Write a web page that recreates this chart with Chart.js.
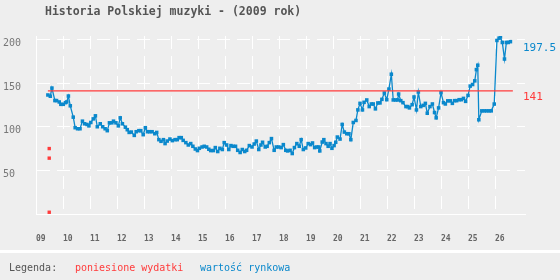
<!DOCTYPE html>
<html><head><meta charset="utf-8">
<script src="https://cdn.jsdelivr.net/npm/chart.js@4/dist/chart.umd.min.js"></script>
<style>html,body{margin:0;padding:0;background:#eeeeee;}#wrap{width:560px;height:280px;}</style>
</head><body><div id="wrap"><canvas id="c" width="560" height="280"></canvas></div>
<script>
const chartTitle = 'Historia Polskiej muzyki - (2009 rok)';
const legendTitle = 'Legenda:';
const seriesNames = ['poniesione wydatki', 'wartość rynkowa'];
const xMin = 9, xMax = 27.11;
const yTicksMax = 204;

const weeks = [9.44,9.53,9.59,9.70,9.76,9.86,9.92,10.01,10.09,10.14,10.20,10.27,10.38,10.45,10.54,10.63,10.72,10.80,10.89,10.96,
11.03,11.12,11.20,11.27,11.38,11.47,11.56,11.64,11.72,11.81,11.87,11.96,12.05,12.12,12.20,12.31,12.38,12.45,12.53,12.64,
12.71,12.81,12.88,12.97,13.05,13.13,13.21,13.30,13.40,13.47,13.55,13.63,13.72,13.78,13.86,13.96,14.05,14.15,14.23,14.30,
14.38,14.45,14.55,14.64,14.73,14.81,14.90,14.98,15.05,15.15,15.23,15.32,15.40,15.47,15.57,15.64,15.73,15.81,15.90,15.97,
16.06,16.14,16.22,16.30,16.39,16.47,16.56,16.64,16.73,16.80,16.90,17.00,17.08,17.16,17.25,17.33,17.39,17.49,17.56,17.64,
17.72,17.82,17.90,17.99,18.08,18.16,18.25,18.32,18.41,18.49,18.57,18.66,18.75,18.82,18.90,18.99,19.08,19.17,19.24,19.32,
19.40,19.47,19.51,19.60,19.66,19.74,19.82,19.89,19.96,20.04,20.10,20.16,20.26,20.34,20.42,20.51,20.59,20.66,20.75,20.85,
20.92,21.00,21.09,21.15,21.25,21.34,21.42,21.49,21.57,21.66,21.74,21.81,21.90,21.99,22.07,22.16,22.23,22.32,22.39,22.43,
22.51,22.59,22.70,22.77,22.83,22.93,23.00,23.09,23.16,23.25,23.34,23.42,23.49,23.59,23.68,23.76,23.82,23.91,24.00,24.09,
24.16,24.25,24.34,24.42,24.50,24.58,24.67,24.75,24.83,24.91,25.00,25.08,25.17,25.25,25.31,25.36,25.40,25.51,25.60,25.69,
25.78,25.86,25.97,26.07,26.15,26.20,26.27,26.35,26.42,26.49,26.57];

const marketValue = [136.4,135,144.3,130,130,128.4,125.7,125.7,127.6,128.4,135.2,124,111,98.9,97.7,97.7,106.4,103.4,102.6,101,
104.9,109,112.5,100,103.4,100,97.7,95.5,104.5,104.5,106.4,104.5,101,110.2,103.4,99.5,96.6,93.5,93.9,90.1,
94.3,95.5,95.5,90.9,98.9,94.3,94.3,94.3,92,93.5,85.2,83.3,85.2,80.7,83.6,85.9,84.1,85.2,85.2,87.5,
87.5,84.4,81.8,79.1,80.7,77.6,74.5,72.7,75.3,76.8,77.6,76.8,74.2,72.7,72.7,76.1,71.6,75.3,73.9,81.8,
79.1,73.9,78.4,77.6,77.6,73,70.5,73.9,71.6,73,78.4,76.8,80.2,83.6,73.9,79.1,82.2,76.8,77.6,81.8,
86.4,73,76.8,76.8,76.1,79.5,73,72.3,73,69.3,76.1,80.7,77.6,85.2,73.9,75.7,80.7,79.5,81.4,76.1,
76.8,76.8,72.3,82.5,85.2,80.7,77.6,80.7,75.3,78.4,82.2,88.2,85.9,102.6,93.9,92,92,85.2,104.9,107.2,
119.3,126.8,119.3,128,130.7,123.1,126.1,126.1,120.5,127.3,127.3,131.4,138.6,131,143.2,160.2,130.7,130.7,130.7,137.5,
129.9,127.6,123.1,123.1,121.6,125.3,134.1,119.3,139.8,123.1,124.5,126.8,115.5,123.1,126.1,116.3,110.2,121.6,139,127.6,
126.1,129.7,129.7,126.8,129.9,129.9,131,131,132.5,129.1,135.9,146.6,148.4,152.6,165.5,170.5,108,118.2,118.2,118.2,
118.2,118.2,126,198.9,201.5,203,196.6,177.6,196.6,196.6,197.5];

const expenseWeeks = [9.49, 9.49, 9.49];
const expenseValues = [75, 64, 2];
const expenseTotal = 141;
const expenseSpan = [9.44, 26.66];

const BLUE = '#0a88cc', RED = '#ff3b3b', BG = '#eeeeee';
const MONO = '"DejaVu Sans Mono", "Liberation Mono", monospace';

const marketPts = weeks.map((w, i) => ({x: w, y: marketValue[i]}));
const expensePts = expenseWeeks.map((w, i) => ({x: w, y: expenseValues[i]}));
const expenseLine = expenseSpan.map(w => ({x: w, y: expenseTotal}));

const decor = {
  id: 'decor',
  beforeDraw(chart) {
    const ctx = chart.ctx;
    ctx.save();
    ctx.fillStyle = BG;
    ctx.fillRect(0, 0, chart.width, chart.height);
    ctx.restore();
  },
  afterDraw(chart) {
    const ctx = chart.ctx, ys = chart.scales.y;
    ctx.save();
    ctx.fillStyle = '#555';
    ctx.font = 'bold 11.5px ' + MONO;
    ctx.textBaseline = 'middle';
    ctx.textAlign = 'left';
    ctx.fillText(chartTitle, 45, 12);
    ctx.fillStyle = '#ffffff';
    ctx.fillRect(0, 250, chart.width, 3);
    ctx.font = '10px ' + MONO;
    ctx.fillStyle = '#555';
    ctx.fillText(legendTitle, 9, 268);
    ctx.fillStyle = RED;
    ctx.fillText(seriesNames[0], 75, 268);
    ctx.fillStyle = BLUE;
    ctx.fillText(seriesNames[1], 200, 268);
    ctx.font = '11px ' + MONO;
    const last = marketValue[marketValue.length - 1];
    ctx.fillStyle = BLUE;
    ctx.fillText(String(last), 523, ys.getPixelForValue(last) + 6);
    ctx.fillStyle = RED;
    ctx.fillText(String(expenseTotal), 523, ys.getPixelForValue(expenseTotal) + 6);
    ctx.restore();
  }
};

new Chart(document.getElementById('c'), {
  type: 'scatter',
  data: {
    datasets: [
      {label: seriesNames[0], data: expenseLine, showLine: true, borderColor: RED, borderWidth: 1.2, pointRadius: 0},
      {label: seriesNames[0], data: expensePts, showLine: false, pointStyle: 'rect', pointRadius: 2.4, pointBorderWidth: 0, backgroundColor: RED, borderColor: RED},
      {label: seriesNames[1], data: marketPts, showLine: true, borderColor: BLUE, borderWidth: 1.3, pointStyle: 'rect', pointRadius: 2.5, pointBorderWidth: 0, pointBackgroundColor: BLUE, tension: 0}
    ]
  },
  options: {
    responsive: false, animation: false, devicePixelRatio: 1,
    layout: {padding: {top: 36, bottom: 30, left: 3, right: 35}},
    plugins: {legend: {display: false}, tooltip: {enabled: false}, title: {display: false}},
    scales: {
      x: {
        type: 'linear', min: xMin, max: xMax,
        afterFit(s) { s.height = 36; },
        grid: {color: c => (c.tick && c.tick.value > 26.5) ? 'rgba(0,0,0,0)' : '#ffffff', lineWidth: 1, drawTicks: false},
        border: {color: '#ffffff', width: 1, dash: [13, 7]},
        ticks: {stepSize: 1, includeBounds: false, align: 'start', padding: 20, maxRotation: 0, autoSkip: false,
          color: '#666', font: {family: MONO, size: 8, weight: 'bold'},
          callback: v => (v > 26.5 ? '' : String(v).padStart(2, '0'))}
      },
      y: {
        min: 0, max: yTicksMax,
        afterFit(s) { s.width = 33; },
        grid: {color: '#ffffff', lineWidth: 1, drawTicks: false},
        border: {color: '#ffffff', width: 1, dash: [13, 7]},
        ticks: {stepSize: 50, includeBounds: false, crossAlign: 'far', labelOffset: 4, padding: 4,
          color: '#777', font: {family: MONO, size: 10},
          callback: v => (v === 0 ? '' : String(v))}
      }
    }
  },
  plugins: [decor]
});
</script>
</body></html>
